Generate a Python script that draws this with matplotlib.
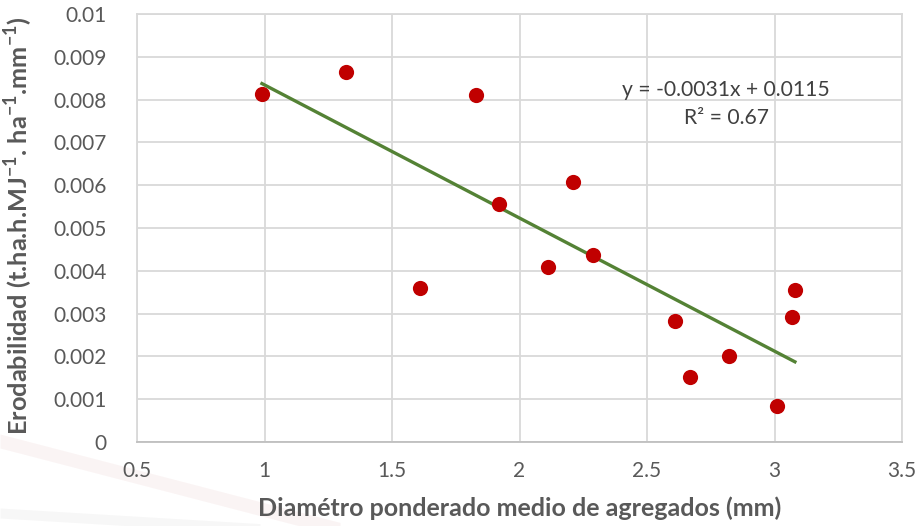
import numpy as np
import matplotlib
matplotlib.use("Agg")
import matplotlib.pyplot as plt

# Data
diametro = [0.99, 1.32, 1.83, 1.61, 1.92, 2.21, 2.11, 2.29, 2.61, 2.67, 2.82, 3.01, 3.07, 3.08]
erodabilidad = [0.00813, 0.00864, 0.00810, 0.00360, 0.00557, 0.00607, 0.00409, 0.00437,
                0.00282, 0.00153, 0.00202, 0.00083, 0.00292, 0.00356]
x_ticks = [0.5, 1, 1.5, 2, 2.5, 3, 3.5]
y_ticks = [0, 0.001, 0.002, 0.003, 0.004, 0.005, 0.006, 0.007, 0.008, 0.009, 0.01]
x_tick_labels = ["0.5", "1", "1.5", "2", "2.5", "3", "3.5"]
y_tick_labels = ["0", "0.001", "0.002", "0.003", "0.004", "0.005", "0.006", "0.007", "0.008", "0.009", "0.01"]
eq_text = "y = -0.0031x + 0.0115"
r2_text = "R² = 0.67"

plt.rcParams['font.family'] = ['Lato', 'DejaVu Sans']
plt.rcParams['mathtext.fontset'] = 'custom'
plt.rcParams['mathtext.rm'] = 'Lato'
plt.rcParams['mathtext.bf'] = 'Lato:bold'

fig = plt.figure(figsize=(9.18, 5.26), dpi=100)

# faint watermark swooshes in the background
wm = fig.add_axes([0, 0, 1, 1], zorder=-5)
wm.set_xlim(0, 918)
wm.set_ylim(526, 0)
wm.axis('off')
xs = np.linspace(0, 340, 50)
wm.fill_between(xs, 440 + xs * 0.26 - 6, 440 + xs * 0.26 + 8, color='#b03030', alpha=0.05, lw=0)
xs2 = np.linspace(0, 260, 50)
wm.fill_between(xs2, 512 + xs2 * 0.06 - 4, 512 + xs2 * 0.06 + 6, color='#909090', alpha=0.07, lw=0)

ax = fig.add_axes([137 / 918, 1 - 442 / 526, (902 - 137) / 918, (442 - 14) / 526])
ax.set_xlim(0.5, 3.5)
ax.set_ylim(0, 0.01)
ax.set_xticks(x_ticks)
ax.set_xticklabels(x_tick_labels)
ax.set_yticks(y_ticks)
ax.set_yticklabels(y_tick_labels)
ax.patch.set_alpha(0)
ax.grid(True, color='#D9D9D9', linewidth=1.3)
ax.set_axisbelow(True)
for s in ax.spines.values():
    s.set_color('#D9D9D9')
    s.set_linewidth(1.3)
ax.spines['bottom'].set_color('#BFBFBF')
ax.tick_params(length=0, labelsize=15, colors='#595959')
ax.tick_params(axis='y', pad=22)
ax.tick_params(axis='x', pad=14)

ax.scatter(diametro, erodabilidad, s=120, color='#C00000', zorder=3, linewidths=0)

coef = np.polyfit(diametro, erodabilidad, 1)
xl = np.array([min(diametro), max(diametro)])
ax.plot(xl, np.polyval(coef, xl), color='#548235', linewidth=2.4, zorder=2)

fig.text(726 / 918, 1 - 90 / 526, eq_text, fontsize=15.2, color='#404040', ha='center', va='center')
fig.text(726 / 918, 1 - 118 / 526, r2_text, fontsize=15.2, color='#404040', ha='center', va='center')

fig.text(520 / 918, 1 - 508 / 526, "Diamétro ponderado medio de agregados (mm)", fontsize=18,
         fontweight='bold', color='#595959', ha='center', va='center')
fig.text(19 / 918, 1 - 226 / 526,
         r"Erodabilidad (t.ha.h.MJ$^{\mathbf{-1}}$. ha$^{\mathbf{-1}}$.mm$^{\mathbf{-1}}$)",
         fontsize=18.3, fontweight='bold', color='#595959', ha='center', va='center', rotation=90)

fig.savefig("out.png", dpi=100)
